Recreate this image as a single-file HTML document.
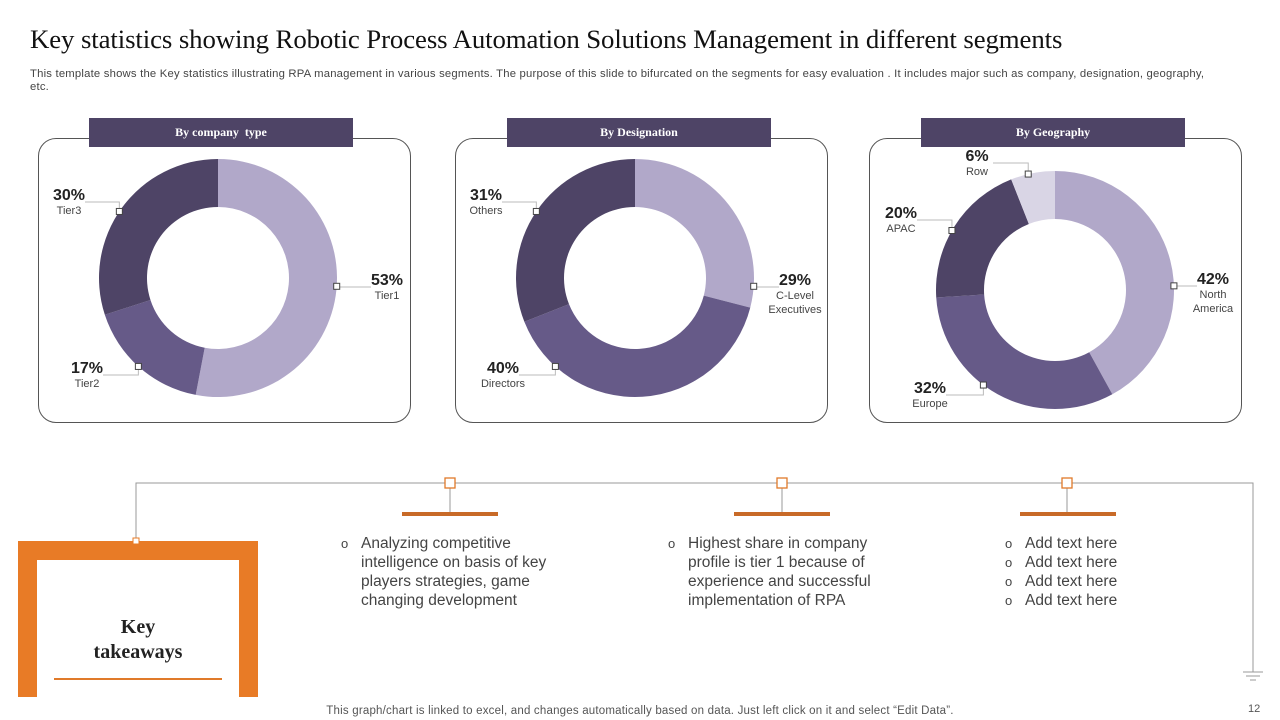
<!DOCTYPE html>
<html><head><meta charset="utf-8"><style>
body{margin:0;width:1280px;height:720px;background:#fff;position:relative;overflow:hidden;font-family:"Liberation Sans",sans-serif;color:#333}
.abs{position:absolute}
h1{position:absolute;left:30px;top:24px;margin:0;font:26.8px "Liberation Serif",serif;color:#111;white-space:nowrap;letter-spacing:-0.1px}
.sub{left:30px;top:68px;font-size:11.3px;letter-spacing:0.2px;color:#444;width:1185px;line-height:13px}
.hdr{background:#4e4466;color:#fff;font:bold 12px "Liberation Serif",serif;text-align:center;line-height:29px;height:29px;width:264px;top:118px}
.card{border:1.3px solid #555;border-radius:18px;top:138px;height:283px}
.bul{font-size:15.5px;line-height:19px;color:#444}
.bul div{padding-left:20px;position:relative}
.bul div:before{content:"o";position:absolute;left:0;font-size:13px}
</style></head><body>
<h1>Key statistics showing Robotic Process Automation Solutions Management in different segments</h1>
<div class="abs sub">This template shows the Key statistics illustrating RPA management in various segments. The purpose of this slide to bifurcated on the segments for easy evaluation . It includes major such as company, designation, geography, etc.</div>

<div class="abs card" style="left:38px;width:371px"></div>
<div class="abs card" style="left:455px;width:371px"></div>
<div class="abs card" style="left:869px;width:371px"></div>
<div class="abs hdr" style="left:89px">By company&nbsp; type</div>
<div class="abs hdr" style="left:507px">By Designation</div>
<div class="abs hdr" style="left:921px">By Geography</div>

<svg id="charts" class="abs" style="left:0;top:0" width="1280" height="720"></svg>

<svg class="abs" style="left:0;top:0" width="1280" height="720">
<path d="M136 541 V483 H1253 V672" fill="none" stroke="#999" stroke-width="1"/>
<path d="M1243 672 H1263 M1246 676 H1260 M1250 680 H1256" stroke="#999"/>
<g stroke="#999"><line x1="450" y1="483" x2="450" y2="514"/><line x1="782" y1="483" x2="782" y2="514"/><line x1="1067" y1="483" x2="1067" y2="514"/></g>
<g fill="#fff" stroke="#e07a2a" stroke-width="1.3"><rect x="445" y="478" width="10" height="10"/><rect x="777" y="478" width="10" height="10"/><rect x="1062" y="478" width="10" height="10"/></g>
<g fill="#c86a28"><rect x="402" y="512" width="96" height="4"/><rect x="734" y="512" width="96" height="4"/><rect x="1020" y="512" width="96" height="4"/></g>
<path d="M18 697 V541 H258 V697 H239 V560 H37 V697 Z" fill="#e87b26"/>
<rect x="133" y="538" width="6" height="6" fill="#fff" stroke="#e87b26"/>
<rect x="54" y="678" width="168" height="2" fill="#e07a2a"/>
</svg>
<div class="abs" style="left:37px;top:615px;width:202px;text-align:center;font:bold 20px 'Liberation Serif',serif;line-height:25px;color:#222">Key<br>takeaways</div>
<div class="abs bul" style="left:341px;top:534px;width:240px"><div>Analyzing competitive intelligence on basis of key players strategies, game changing development</div></div>
<div class="abs bul" style="left:668px;top:534px;width:240px"><div>Highest share in company profile is tier 1 because of experience and successful implementation of RPA</div></div>
<div class="abs bul" style="left:1005px;top:534px;width:200px"><div>Add text here</div><div>Add text here</div><div>Add text here</div><div>Add text here</div></div>
<div class="abs" style="left:0;width:1280px;top:705px;text-align:center;font-size:11.5px;letter-spacing:0.2px;color:#555">This graph/chart is linked to excel, and changes automatically based on data. Just left click on it and select “Edit Data”.</div>
<div class="abs" style="left:1248px;top:703px;font-size:11px;color:#555">12</div>

<script>
const companyLabels=["Tier1","Tier2","Tier3"];
const companyValues=[53,17,30];
const designationLabels=["C-Level Executives","Directors","Others"];
const designationValues=[29,40,31];
const geoLabels=["North America","Europe","APAC","Row"];
const geoValues=[42,32,20,6];
const colors=["#b1a8c9","#665a88","#4e4466","#d9d5e5"];
const NS="http://www.w3.org/2000/svg";
const svg=document.getElementById("charts");
function pt(cx,cy,r,a){return [cx+r*Math.sin(a),cy-r*Math.cos(a)];}
function donut(cx,cy,R,r,labels,vals,lpos,mAng,name){
  const tot=vals.reduce((a,b)=>a+b,0);let a0=0;
  vals.forEach((v,i)=>{
    const a1=a0+v/tot*2*Math.PI,lg=(a1-a0)>Math.PI?1:0;
    const [x1,y1]=pt(cx,cy,R,a0),[x2,y2]=pt(cx,cy,R,a1),[x3,y3]=pt(cx,cy,r,a1),[x4,y4]=pt(cx,cy,r,a0);
    const p=document.createElementNS(NS,"path");
    p.setAttribute("d",`M${x1} ${y1}A${R} ${R} 0 ${lg} 1 ${x2} ${y2}L${x3} ${y3}A${r} ${r} 0 ${lg} 0 ${x4} ${y4}Z`);
    p.setAttribute("fill",colors[i]);
    
    
    svg.appendChild(p);
    let am=mAng[i]*Math.PI/180;
    if(am<a0||am>a1) am=(a0+a1)/2;
    const [mx,my]=pt(cx,cy,R,am);
    const [lx,ly]=lpos[i];
    const ex=lx+(lx<mx?16:-16);
    const ln=document.createElementNS(NS,"path");
    ln.setAttribute("d",`M${mx} ${my}L${mx} ${ly}L${ex} ${ly}`);
    ln.setAttribute("fill","none");ln.setAttribute("stroke","#bbb");
    
    
    svg.appendChild(ln);
    const m=document.createElementNS(NS,"rect");
    m.setAttribute("x",mx-3);m.setAttribute("y",my-3);m.setAttribute("width",6);m.setAttribute("height",6);
    m.setAttribute("fill","#fff");m.setAttribute("stroke","#444");
    
    
    svg.appendChild(m);
    const t=document.createElementNS(NS,"text");
    t.setAttribute("x",lx);t.setAttribute("y",ly-2);t.setAttribute("text-anchor","middle");
    t.setAttribute("font-size","16");t.setAttribute("font-weight","bold");t.setAttribute("fill","#222");
    t.textContent=v+"%";
    
    
    svg.appendChild(t);
    const words=(labels[i].indexOf("C-Level")===0||labels[i]==="North America")?labels[i].split(" "):[labels[i]];
    words.forEach((w,k)=>{
      const s=document.createElementNS(NS,"text");
      s.setAttribute("x",lx);s.setAttribute("y",ly+12+k*14);s.setAttribute("text-anchor","middle");
      s.setAttribute("font-size","11");s.setAttribute("fill","#444");s.textContent=w;
      
      
      svg.appendChild(s);
    });
    a0=a1;
  });
}
donut(218,278,119,71,companyLabels,companyValues,[[387,287],[87,375],[69,202]],[94,222,304],"company");
donut(635,278,119,71,designationLabels,designationValues,[[795,287],[503,375],[486,202]],[94,222,304],"designation");
donut(1055,290,119,71,geoLabels,geoValues,[[1213,286],[930,395],[901,220],[977,163]],[88,217,300,347],"geography");
</script>
</body></html>
